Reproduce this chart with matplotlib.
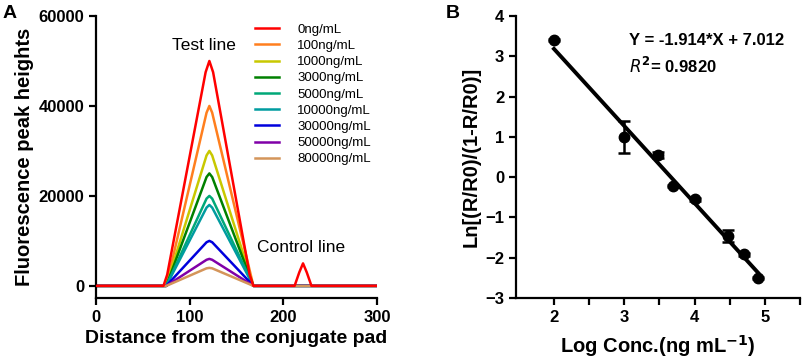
import numpy as np
import matplotlib.pyplot as plt

plt.rcParams['font.family'] = ['Liberation Sans', 'DejaVu Sans']

# Panel A: fluorescence profiles along the strip
labels = ['0ng/mL', '100ng/mL', '1000ng/mL', '3000ng/mL', '5000ng/mL',
          '10000ng/mL', '30000ng/mL', '50000ng/mL', '80000ng/mL']
colors = ['#FF0000', '#FF7F1E', '#C8C800', '#008000', '#00A878',
          '#009CA0', '#0000DD', '#8000A8', '#D4955A']

x_red = [0, 70, 72, 76, 117, 121, 125, 164, 168, 170, 212, 217, 221, 225, 230, 300]
y_red = [0, 0, 0, 2500, 47500, 50000, 47500, 2500, 0, 0, 0, 3000, 5000, 3000, 0, 0]

x_peak = [0, 75, 118, 121, 124, 168, 300]
y_100 = [0, 0, 38500, 40000, 38500, 0, 0]
y_1000 = [0, 0, 29000, 30000, 29000, 0, 0]
y_3000 = [0, 0, 24200, 25000, 24200, 0, 0]
y_5000 = [0, 0, 19400, 20000, 19400, 0, 0]
y_10000 = [0, 0, 17400, 18000, 17400, 0, 0]
y_30000 = [0, 0, 9700, 10000, 9700, 0, 0]
y_50000 = [0, 0, 5800, 6000, 5800, 0, 0]
y_80000 = [0, 0, 3900, 4000, 3900, 0, 0]

# Panel B: calibration
log_conc = [2.0, 3.0, 3.477, 3.699, 4.0, 4.477, 4.699, 4.903]
ln_ratio = [3.40, 1.00, 0.55, -0.22, -0.55, -1.45, -1.92, -2.50]
ln_err = [0.03, 0.40, 0.08, 0.03, 0.03, 0.15, 0.04, 0.03]
slope, intercept = -1.914, 7.012

fig = plt.figure(figsize=(8.03, 3.61), dpi=100)
axA = fig.add_axes([0.1196, 0.1745, 0.3499, 0.7812])
axB = fig.add_axes([0.6426, 0.1745, 0.3537, 0.7812])

for ax in (axA, axB):
    for s in ('top', 'right'):
        ax.spines[s].set_visible(False)
    for s in ('left', 'bottom'):
        ax.spines[s].set_linewidth(1.6)
    ax.tick_params(width=1.6, length=5, labelsize=12, direction='out')

# --- Panel A
series = [y_100, y_1000, y_3000, y_5000, y_10000, y_30000, y_50000, y_80000]
handles = []
h, = axA.plot(x_red, y_red, color=colors[0], lw=1.8, label=labels[0], zorder=10)
handles.append(h)
for ys, c, lab in zip(series, colors[1:], labels[1:]):
    h, = axA.plot(x_peak, ys, color=c, lw=1.8, label=lab)
    handles.append(h)

axA.set_xlim(0, 300)
axA.set_ylim(-2700, 60000)
axA.set_xticks([0, 100, 200, 300])
axA.set_yticks([0, 20000, 40000, 60000])
for t in axA.get_xticklabels() + axA.get_yticklabels():
    t.set_fontweight('bold')
axA.set_xlabel('Distance from the conjugate pad', fontsize=14, fontweight='bold', labelpad=4)
axA.set_ylabel('Fluorescence peak heights', fontsize=14.5, fontweight='bold', labelpad=3)
axA.text(115, 53500, 'Test line', fontsize=12.5, ha='center', va='center')
axA.text(219, 8500, 'Control line', fontsize=12.5, ha='center', va='center')
axA.legend(handles=handles, loc='upper right', bbox_to_anchor=(1.02, 1.015), frameon=False,
           fontsize=9.5, handlelength=1.8, labelspacing=0.3, handletextpad=1.4)
fig.text(0.003, 0.985, 'A', fontsize=14, fontweight='bold', va='top')

# --- Panel B
axB.errorbar(log_conc, ln_ratio, yerr=ln_err, fmt='o', color='black', ms=7.5,
             capsize=4, elinewidth=1.8, capthick=1.8)
fit_x = np.array([log_conc[0], log_conc[-1]])
axB.plot(fit_x, slope * fit_x + intercept, color='black', lw=2.8)
axB.set_xlim(1.46, 5.5)
axB.set_ylim(-3, 4)
axB.set_xticks([2, 3, 4, 5])
axB.set_xticks([2.5, 3.5, 4.5, 5.5], minor=True)
axB.tick_params(which='minor', width=1.6, length=5)
axB.set_yticks(range(-3, 5))
for t in axB.get_xticklabels() + axB.get_yticklabels():
    t.set_fontweight('bold')
axB.set_xlabel('Log Conc.(ng mL$^{\\mathbf{-1}}$)', fontsize=14.5, fontweight='bold', labelpad=6)
axB.set_ylabel('Ln[(R/R0)/(1-R/R0)]', fontsize=14.5, fontweight='bold', labelpad=3)
axB.text(3.07, 3.4, 'Y = -1.914*X + 7.012', fontsize=12, fontweight='bold', va='center')
axB.text(3.07, 2.76, '$\\mathit{R}^{\\mathbf{2}}$= 0.9820', fontsize=12, fontweight='bold', va='center')
fig.text(0.555, 0.985, 'B', fontsize=14, fontweight='bold', va='top')

fig.savefig('out.png', dpi=100)
